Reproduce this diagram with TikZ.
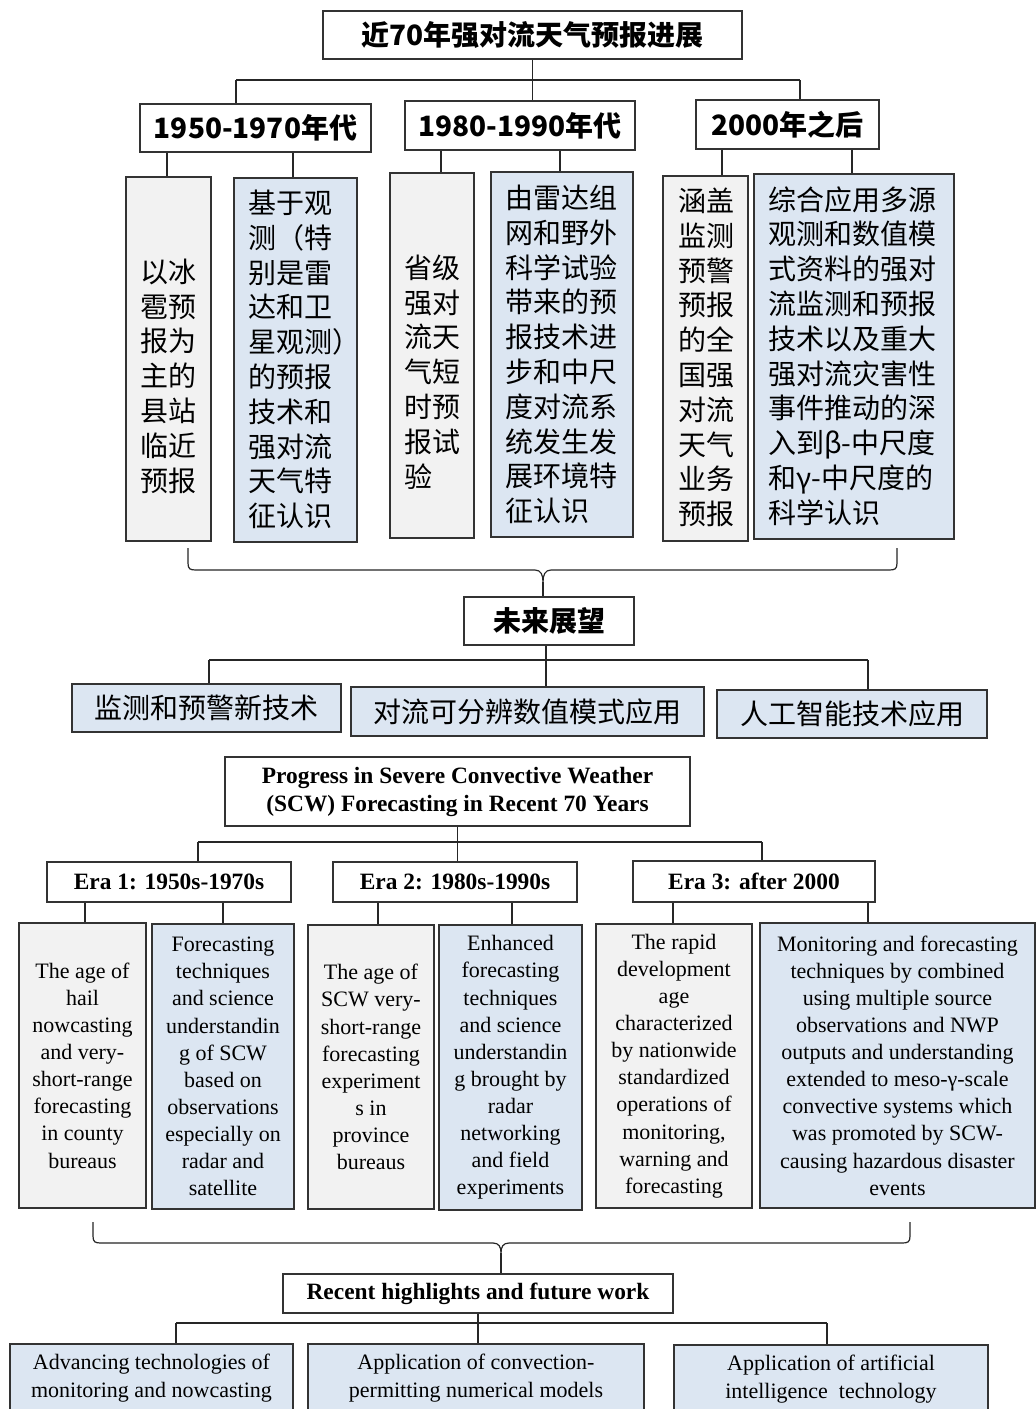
\documentclass[tikz,border=0pt]{standalone}
\usepackage{fontspec}
\setmainfont{Liberation Serif}
\newfontfamily\cjk{Noto Sans CJK SC}
\definecolor{graybg}{HTML}{F2F2F2}
\definecolor{bluebg}{HTML}{DCE6F2}
\begin{document}
\begin{tikzpicture}[x=1pt,y=-1pt,
  box/.style={draw=black!80,line width=1.3pt,rectangle,inner sep=0pt,align=center},
  gbox/.style={box,fill=graybg},
  bbox/.style={box,fill=bluebg},
  wbox/.style={box,fill=white},
  conn/.style={draw=black!85,line width=1.2pt},
  cjkt/.style={font=\cjk\fontsize{28}{34.8}\selectfont,align=left,inner sep=0pt,anchor=west},
  cjkh/.style={font=\cjk\bfseries\fontsize{28}{34}\selectfont},
  cjkn/.style={font=\cjk\fontsize{28}{34}\selectfont},
  ent/.style={font=\fontsize{22}{27.1}\selectfont},
  enh/.style={font=\bfseries\fontsize{23.4}{28}\selectfont},
  enb/.style={font=\fontsize{22}{28}\selectfont}
]
\useasboundingbox (0,0) rectangle (1036,1409);
\clip (0,0) rectangle (1036,1409);
\fill[white] (0,0) rectangle (1036,1409);

% ---------------- Chinese part ----------------
\node[wbox,cjkh,minimum width=419,minimum height=48] (title) at (532.5,35) {近70年强对流天气预报进展};
\node[wbox,cjkh,minimum width=231,minimum height=48] (e1) at (255.5,128) {1950-1970年代};
\node[wbox,cjkh,minimum width=230,minimum height=49] (e2) at (520,125.5) {1980-1990年代};
\node[wbox,cjkh,minimum width=183,minimum height=49] (e3) at (787.5,124.5) {2000年之后};

\coordinate (b1) at (236,80);
\coordinate (b3) at (800,80);
\draw[conn] (title.south) -- (title.south |- b1);
\draw[conn] (b1) -- (b3);
\draw[conn] (b1) -- (b1 |- e1.north);
\draw[conn] (b3) -- (b3 |- e3.north);
\draw[conn] (title.south |- b1) -- (title.south |- e2.north);

\node[gbox,minimum width=85,minimum height=364] (a1) at (168.5,359) {};
\node[bbox,minimum width=123,minimum height=364] (a2) at (295.5,360) {};
\node[gbox,minimum width=84,minimum height=365] (c1a) at (432,355.5) {};
\node[bbox,minimum width=142,minimum height=365] (c1b) at (562,354.5) {};
\node[gbox,minimum width=85,minimum height=365] (d1) at (705.5,358.5) {};
\node[bbox,minimum width=200,minimum height=365] (d2) at (854,356.5) {};

\node[cjkt] (a1t) at (140,376) {以冰\\雹预\\报为\\主的\\县站\\临近\\预报};
\node[cjkt] (a2t) at (248,359.5) {基于观\\测（特\\别是雷\\达和卫\\星观测）\\的预报\\技术和\\强对流\\天气特\\征认识};
\node[cjkt] (c1at) at (404,372) {省级\\强对\\流天\\气短\\时预\\报试\\验};
\node[cjkt] (c1bt) at (505,354.5) {由雷达组\\网和野外\\科学试验\\带来的预\\报技术进\\步和中尺\\度对流系\\统发生发\\展环境特\\征认识};
\node[cjkt] (d1t) at (678,357.5) {涵盖\\监测\\预警\\预报\\的全\\国强\\对流\\天气\\业务\\预报};
\node[cjkt] (d2t) at (768,356) {综合应用多源\\观测和数值模\\式资料的强对\\流监测和预报\\技术以及重大\\强对流灾害性\\事件推动的深\\入到β-中尺度\\和γ-中尺度的\\科学认识};

\draw[conn] (e1.south -| 167,0) -- (a1.north -| 167,0);
\draw[conn] (e1.south -| 293,0) -- (a2.north -| 293,0);
\draw[conn] (e2.south -| 441,0) -- (c1a.north -| 441,0);
\draw[conn] (e2.south -| 560,0) -- (c1b.north -| 560,0);
\draw[conn] (e3.south -| 722,0) -- (d1.north -| 722,0);
\draw[conn] (e3.south -| 852,0) -- (d2.north -| 852,0);

\node[wbox,cjkh,minimum width=170,minimum height=48] (fut) at (549,621) {未来展望};

\coordinate (brL) at (188,548);
\coordinate (brR) at (897,548);
\coordinate (brC) at (543,582);
\draw[conn] (brL) -- (188,563) .. controls (188,569) and (190,570) .. (196,570) -- (535,570)
  .. controls (541,570) and (543,575) .. (brC)
  .. controls (543,575) and (545,570) .. (551,570) -- (889,570)
  .. controls (895,570) and (897,569) .. (897,563) -- (brR);
\draw[conn] (brC) -- (brC |- fut.north);

\node[bbox,cjkn,minimum width=269,minimum height=48] (f1) at (206.5,708) {监测和预警新技术};
\node[bbox,cjkn,minimum width=353,minimum height=49] (f2) at (527.5,711.5) {对流可分辨数值模式应用};
\node[bbox,cjkn,minimum width=270,minimum height=48] (f3) at (852,714) {人工智能技术应用};

\coordinate (m1) at (209,660);
\coordinate (m3) at (868,660);
\draw[conn] (fut.south -| 546,0) -- (546,660);
\draw[conn] (m1) -- (m3);
\draw[conn] (m1) -- (m1 |- f1.north);
\draw[conn] (m3) -- (m3 |- f3.north);
\draw[conn] (546,660) -- (f2.north -| 546,0);

% ---------------- English part ----------------
\node[wbox,enh,minimum width=465,minimum height=69] (et) at (457.5,791.5) {Progress in Severe Convective Weather\\(SCW) Forecasting in Recent 70 Years};
\node[wbox,enh,minimum width=244,minimum height=40] (g1) at (169,882) {Era 1: 1950s-1970s};
\node[wbox,enh,minimum width=244,minimum height=40] (g2) at (455,882) {Era 2: 1980s-1990s};
\node[wbox,enh,minimum width=242,minimum height=41] (g3) at (754,881.5) {Era 3: after 2000};

\coordinate (n1) at (198,842);
\coordinate (n3) at (762,842);
\draw[conn] (et.south) -- (et.south |- n1);
\draw[conn] (n1) -- (n3);
\draw[conn] (n1) -- (n1 |- g1.north);
\draw[conn] (n3) -- (n3 |- g3.north);
\draw[conn] (et.south |- n1) -- (et.south |- g2.north);

\node[gbox,ent,minimum width=127,minimum height=285] (s1) at (82.5,1065.5) {The age of\\hail\\nowcasting\\and very-\\short-range\\forecasting\\in county\\bureaus};
\node[bbox,ent,minimum width=142,minimum height=285] (s2) at (223,1066.5) {Forecasting\\techniques\\and science\\understandin\\g of SCW\\based on\\observations\\especially on\\radar and\\satellite};
\node[gbox,ent,minimum width=126,minimum height=284] (s3) at (371,1067) {The age of\\SCW very-\\short-range\\forecasting\\experiment\\s in\\province\\bureaus};
\node[bbox,ent,minimum width=143,minimum height=285] (s4) at (510.5,1067.5) {Enhanced\\forecasting\\techniques\\and science\\understandin\\g brought by\\radar\\networking\\and field\\experiments};
\node[gbox,ent,minimum width=156,minimum height=284] (s5) at (674,1066) {The rapid\\development\\age\\characterized\\by nationwide\\standardized\\operations of\\monitoring,\\warning and\\forecasting};
\node[bbox,ent,minimum width=275,minimum height=285] (s6) at (897.5,1065.5) {Monitoring and forecasting\\techniques by combined\\using multiple source\\observations and NWP\\outputs and understanding\\extended to meso-γ-scale\\convective systems which\\was promoted by SCW-\\causing hazardous disaster\\events};

\draw[conn] (g1.south -| 85,0) -- (s1.north -| 85,0);
\draw[conn] (g1.south -| 223,0) -- (s2.north -| 223,0);
\draw[conn] (g2.south -| 378,0) -- (s3.north -| 378,0);
\draw[conn] (g2.south -| 512,0) -- (s4.north -| 512,0);
\draw[conn] (g3.south -| 673,0) -- (s5.north -| 673,0);
\draw[conn] (g3.south -| 868,0) -- (s6.north -| 868,0);

\node[wbox,enh,minimum width=390,minimum height=39] (rh) at (478,1293.5) {Recent highlights and future work};

\coordinate (qL) at (93,1222);
\coordinate (qR) at (910,1222);
\coordinate (qC) at (501,1253);
\draw[conn] (qL) -- (93,1236) .. controls (93,1242) and (95,1243) .. (101,1243) -- (493,1243)
  .. controls (499,1243) and (501,1247) .. (qC)
  .. controls (501,1247) and (503,1243) .. (509,1243) -- (902,1243)
  .. controls (908,1243) and (910,1242) .. (910,1236) -- (qR);
\draw[conn] (qC) -- (qC |- rh.north);

\node[bbox,enb,minimum width=283,minimum height=68] (h1) at (151.5,1378) {Advancing technologies of\\monitoring and nowcasting};
\node[bbox,enb,minimum width=336,minimum height=68] (h2) at (476,1378) {Application of convection-\\permitting numerical models};
\node[bbox,enb,minimum width=314,minimum height=68] (h3) at (831,1379) {Application of artificial\\intelligence\ \ technology};

\coordinate (p1) at (176,1323);
\coordinate (p3) at (827,1323);
\draw[conn] (rh.south) -- (rh.south |- p1);
\draw[conn] (p1) -- (p3);
\draw[conn] (p1) -- (p1 |- h1.north);
\draw[conn] (p3) -- (p3 |- h3.north);
\draw[conn] (rh.south |- p1) -- (rh.south |- h2.north);
\end{tikzpicture}
\end{document}
